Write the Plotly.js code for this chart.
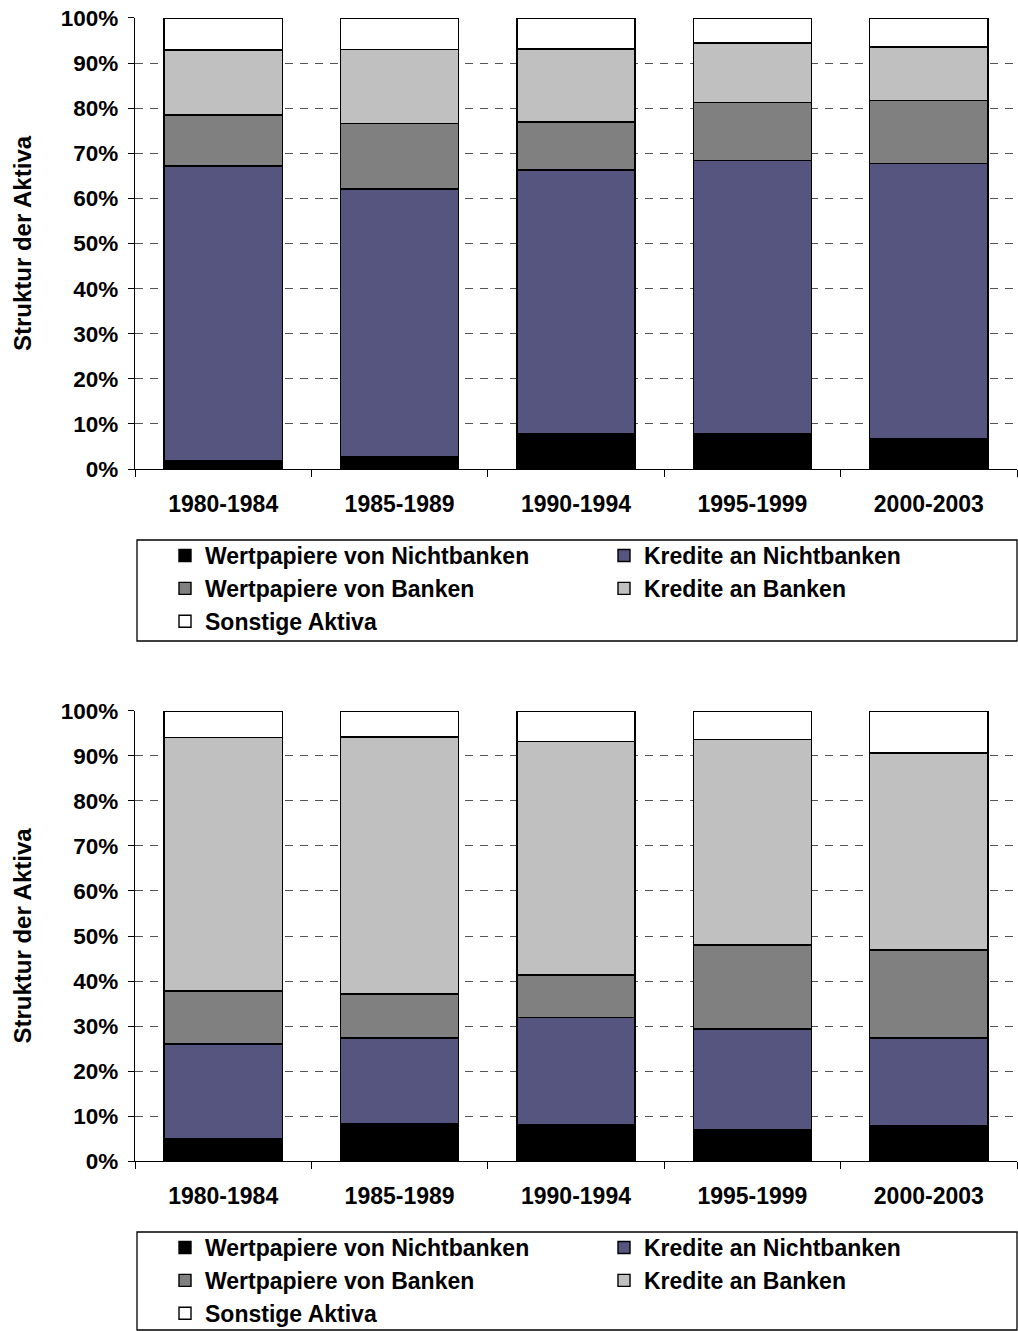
<!DOCTYPE html>
<html>
<head>
<meta charset="utf-8">
<script src="https://cdn.plot.ly/plotly-3.0.1.min.js"></script>
<style>html,body{margin:0;padding:0;background:#fff;}</style>
</head>
<body>
<div id="chart" style="width:1018px;height:1331px;"></div>
<script>
// Categories (periods)
const periods = ['1980-1984', '1985-1989', '1990-1994', '1995-1999', '2000-2003'];

// Series names
const seriesNames = ['Wertpapiere von Nichtbanken', 'Kredite an Nichtbanken', 'Wertpapiere von Banken', 'Kredite an Banken', 'Sonstige Aktiva'];

// Top chart: share of assets (%)
const topWertpapiereNichtbanken = [1.8, 2.7, 7.9, 7.9, 6.7];
const topKrediteNichtbanken     = [65.4, 59.4, 58.4, 60.5, 61.1];
const topWertpapiereBanken      = [11.3, 14.5, 10.6, 12.9, 13.9];
const topKrediteBanken          = [14.4, 16.4, 16.2, 13.2, 11.9];
const topSonstige               = [7.1, 7.0, 6.9, 5.5, 6.4];

// Bottom chart: share of assets (%)
const botWertpapiereNichtbanken = [5.0, 8.2, 8.1, 7.0, 7.9];
const botKrediteNichtbanken     = [21.0, 19.1, 23.8, 22.3, 19.4];
const botWertpapiereBanken      = [11.8, 9.8, 9.4, 18.7, 19.6];
const botKrediteBanken          = [56.3, 57.1, 51.9, 45.6, 43.8];
const botSonstige               = [5.9, 5.8, 6.8, 6.4, 9.3];

// Y tick labels
const yTickVals = [0, 10, 20, 30, 40, 50, 60, 70, 80, 90, 100];
const yTickText = ['0%', '10%', '20%', '30%', '40%', '50%', '60%', '70%', '80%', '90%', '100%'];

const colors = ['#000000', '#55557f', '#808080', '#c0c0c0', '#ffffff'];
// legend column for each series (two-column legend layout)
const legendColumn = [0, 1, 0, 1, 0];
const FONT = '"Liberation Sans", Arial, Helvetica, sans-serif';

const topSeries = [topWertpapiereNichtbanken, topKrediteNichtbanken, topWertpapiereBanken, topKrediteBanken, topSonstige];
const botSeries = [botWertpapiereNichtbanken, botKrediteNichtbanken, botWertpapiereBanken, botKrediteBanken, botSonstige];

const traces = [];
topSeries.forEach((vals, i) => {
  traces.push({
    type: 'bar', x: periods, y: vals, name: seriesNames[i],
    xaxis: 'x', yaxis: 'y', legend: legendColumn[i] === 0 ? 'legend' : 'legend2',
    marker: {color: colors[i], line: {color: '#000', width: 1.4}},
    hoverinfo: 'x+y+name'
  });
});
botSeries.forEach((vals, i) => {
  traces.push({
    type: 'bar', x: periods, y: vals, name: seriesNames[i],
    xaxis: 'x2', yaxis: 'y2', legend: legendColumn[i] === 0 ? 'legend3' : 'legend4',
    marker: {color: colors[i], line: {color: '#000', width: 1.4}},
    hoverinfo: 'x+y+name'
  });
});

function xAxis(anchor) {
  return {
    anchor: anchor,
    domain: [0, 1],
    showline: true, linecolor: '#000', linewidth: 1.3,
    ticks: 'outside', ticklen: 7, tickcolor: '#000', tickwidth: 1,
    tickson: 'boundaries',
    ticklabelstandoff: 14,
    showgrid: false,
    tickfont: {family: FONT, size: 23, color: '#000', weight: 'bold'},
    fixedrange: true
  };
}
function yAxis(anchor, domain) {
  return {
    anchor: anchor,
    domain: domain,
    range: [0, 100],
    tickvals: yTickVals, ticktext: yTickText,
    showline: true, linecolor: '#000', linewidth: 1.3,
    ticks: 'outside', ticklen: 6, tickcolor: '#000', tickwidth: 1,
    ticklabelstandoff: 5,
    showgrid: true, gridcolor: '#555', gridwidth: 1, griddash: '8px,7px',
    zeroline: false,
    tickfont: {family: FONT, size: 22.5, color: '#000', weight: 'bold'},
    title: {text: 'Struktur der Aktiva', font: {family: FONT, size: 24, color: '#000', weight: 'bold'}, standoff: 22},
    fixedrange: true
  };
}

// legend placement in pixels (converted to paper coords)
const W = 1018, H = 1331, ML = 135, MR = 1;
const PW = W - ML - MR;
const px2x = p => (p - ML) / PW;
const px2y = p => 1 - p / H;

function legendCfg(xpx, ypx) {
  return {
    orientation: 'v',
    x: px2x(xpx), xanchor: 'left',
    y: px2y(ypx), yanchor: 'top',
    traceorder: 'normal',
    borderwidth: 0,
    bgcolor: 'rgba(0,0,0,0)',
    font: {family: FONT, size: 23, color: '#000', weight: 'bold'},
    itemclick: false, itemdoubleclick: false
  };
}

function boxShape(topPx, botPx) {
  return {
    type: 'rect', xref: 'paper', yref: 'paper',
    x0: px2x(137), x1: px2x(1017), y0: px2y(botPx), y1: px2y(topPx),
    line: {color: '#000', width: 1.3}, fillcolor: 'rgba(0,0,0,0)', layer: 'below'
  };
}

const layout = {
  width: W, height: H,
  margin: {l: ML, r: MR, t: 0, b: 0, autoexpand: false},
  paper_bgcolor: '#fff', plot_bgcolor: '#fff',
  barmode: 'stack', bargap: 0.33,
  showlegend: true,
  xaxis: xAxis('y'),
  yaxis: yAxis('x', [0.6476, 0.98648]),
  xaxis2: xAxis('y2'),
  yaxis2: yAxis('x2', [0.12772, 0.46582]),
  legend: legendCfg(165, 534),
  legend2: legendCfg(604, 534),
  legend3: legendCfg(165, 1226),
  legend4: legendCfg(604, 1226),
  shapes: [boxShape(540, 641), boxShape(1232, 1330)],
  font: {family: FONT, color: '#000'}
};

Plotly.newPlot('chart', traces, layout, {displayModeBar: false, staticPlot: true});
</script>
</body>
</html>
